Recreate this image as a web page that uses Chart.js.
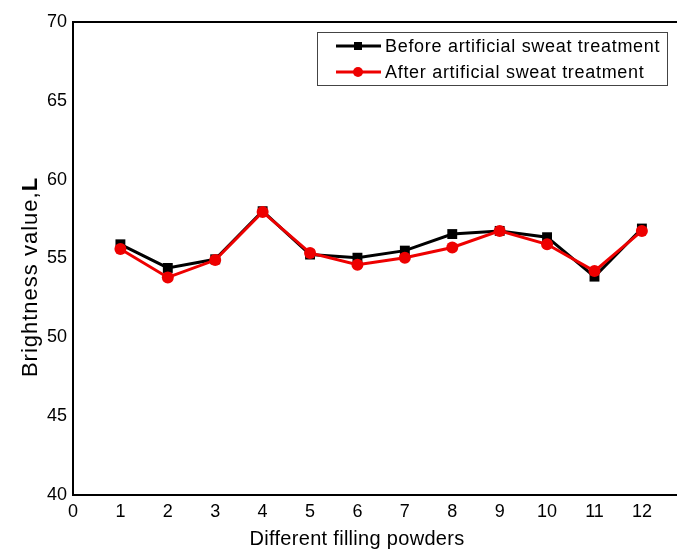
<!DOCTYPE html>
<html>
<head>
<meta charset="utf-8">
<script src="https://cdn.jsdelivr.net/npm/chart.js@4/dist/chart.umd.min.js"></script>
<style>
  html, body { margin: 0; padding: 0; background: #fff; overflow: hidden; }
  #wrap { width: 720px; height: 550px; }
</style>
</head>
<body>
<div id="wrap"><canvas id="brightness"></canvas></div>
<script>
// Data
var powders = [1, 2, 3, 4, 5, 6, 7, 8, 9, 10, 11, 12];
var beforeSweat = [55.9, 54.4, 54.95, 58.0, 55.25, 55.05, 55.5, 56.55, 56.75, 56.35, 53.85, 56.9];
var afterSweat = [55.6, 53.8, 54.9, 57.95, 55.35, 54.6, 55.05, 55.7, 56.75, 55.9, 54.2, 56.75];
var xTicks = [0, 1, 2, 3, 4, 5, 6, 7, 8, 9, 10, 11, 12];
var yTicks = [40, 45, 50, 55, 60, 65, 70];

var FONT = '"Liberation Sans", Arial, sans-serif';

function toPoints(values) {
    return powders.map(function(p, i) { return { x: p, y: values[i] }; });
}

// Titles, legend box and the top frame line
var decorations = {
    id: 'decorations',
    afterDraw: function(chart) {
        var ctx = chart.ctx;
        var area = chart.chartArea;
        ctx.save();

        // top frame
        ctx.strokeStyle = '#000';
        ctx.lineWidth = 2;
        ctx.beginPath();
        ctx.moveTo(area.left - 1, area.top);
        ctx.lineTo(chart.width, area.top);
        ctx.stroke();

        // x title
        ctx.fillStyle = '#000';
        ctx.font = '20px ' + FONT;
        ctx.letterSpacing = '0.3px';
        ctx.textAlign = 'center';
        ctx.textBaseline = 'middle';
        ctx.fillText('Different filling powders', 357, 539);

        // y title with bold L
        ctx.translate(37, 277);
        ctx.rotate(-Math.PI / 2);
        ctx.letterSpacing = '1px';
        ctx.textBaseline = 'alphabetic';
        var part1 = 'Brightness value,';
        ctx.font = '22px ' + FONT;
        var w1 = ctx.measureText(part1).width;
        ctx.font = 'bold 22px ' + FONT;
        var w2 = ctx.measureText('L').width;
        var start = -(w1 + w2) / 2;
        ctx.textAlign = 'left';
        ctx.font = '22px ' + FONT;
        ctx.fillText(part1, start, 0);
        ctx.font = 'bold 22px ' + FONT;
        ctx.fillText('L', start + w1, 0);
        ctx.setTransform(1, 0, 0, 1, 0, 0);

        // legend
        ctx.strokeStyle = '#444';
        ctx.lineWidth = 1;
        ctx.strokeRect(317.5, 32.5, 350, 53);
        var rows = [
            { label: 'Before artificial sweat treatment', color: '#000', style: 'rect', y: 46 },
            { label: 'After artificial sweat treatment', color: '#ee0000', style: 'circle', y: 72 }
        ];
        rows.forEach(function(r) {
            ctx.strokeStyle = r.color;
            ctx.fillStyle = r.color;
            ctx.lineWidth = 3;
            ctx.beginPath();
            ctx.moveTo(336, r.y);
            ctx.lineTo(381, r.y);
            ctx.stroke();
            ctx.beginPath();
            if (r.style === 'rect') {
                ctx.fillRect(354, r.y - 4, 8, 8);
            } else {
                ctx.arc(358, r.y, 5, 0, Math.PI * 2);
                ctx.fill();
            }
            ctx.fillStyle = '#000';
            ctx.font = '18px ' + FONT;
            ctx.letterSpacing = '0.7px';
            ctx.textAlign = 'left';
            ctx.textBaseline = 'middle';
            ctx.fillText(r.label, 385, r.y + 1);
        });
        ctx.restore();
    }
};

var chart = new Chart(document.getElementById('brightness'), {
    type: 'line',
    data: {
        datasets: [
            {
                label: 'Before artificial sweat treatment',
                data: toPoints(beforeSweat),
                borderColor: '#000',
                backgroundColor: '#000',
                borderWidth: 3,
                pointStyle: 'rect',
                pointRadius: 7,
                pointBorderWidth: 0,
                order: 2
            },
            {
                label: 'After artificial sweat treatment',
                data: toPoints(afterSweat),
                borderColor: '#ee0000',
                backgroundColor: '#ee0000',
                borderWidth: 3,
                pointStyle: 'circle',
                pointRadius: 6,
                pointBorderWidth: 0,
                order: 1
            }
        ]
    },
    options: {
        responsive: true,
        maintainAspectRatio: false,
        animation: false,
        layout: { padding: { left: 0, right: 0, top: 22, bottom: 0 } },
        plugins: {
            legend: { display: false },
            tooltip: { enabled: false }
        },
        scales: {
            x: {
                type: 'linear',
                min: 0,
                max: 13.5,
                afterFit: function(s) { s.height = 55; },
                afterBuildTicks: function(s) {
                    s.ticks = xTicks.map(function(v) { return { value: v }; });
                },
                grid: { display: false, drawTicks: false },
                border: { display: true, color: '#000', width: 2 },
                ticks: {
                    padding: 6,
                    color: '#000',
                    font: { family: FONT, size: 18 },
                    maxRotation: 0
                }
            },
            y: {
                min: 40,
                max: 70,
                afterFit: function(s) { s.width = 73; },
                afterBuildTicks: function(s) {
                    s.ticks = yTicks.map(function(v) { return { value: v }; });
                },
                grid: { display: false, drawTicks: false },
                border: { display: true, color: '#000', width: 2 },
                ticks: {
                    padding: 6,
                    color: '#000',
                    font: { family: FONT, size: 18 }
                }
            }
        }
    },
    plugins: [decorations]
});
</script>
</body>
</html>
